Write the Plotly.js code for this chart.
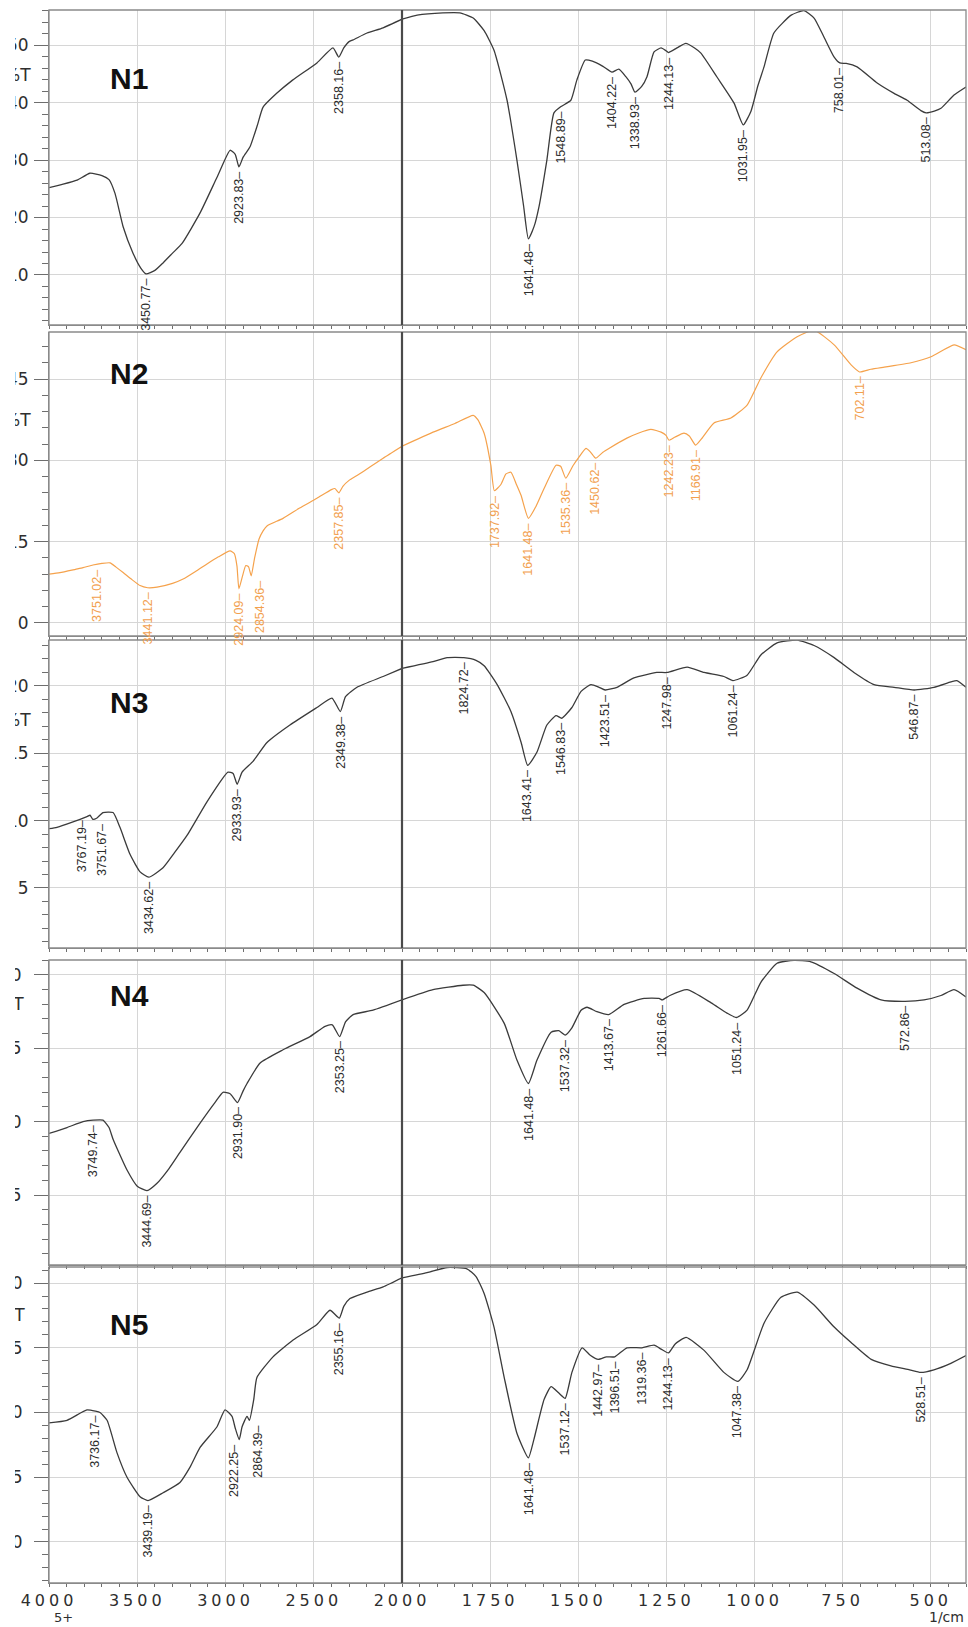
<!DOCTYPE html>
<html><head><meta charset="utf-8">
<script src="https://cdn.plot.ly/plotly-3.0.1.min.js"></script>
<style>
html,body{margin:0;padding:0;background:#fff;overflow:hidden}
#wrap{position:relative;width:968px;height:1627px}
#chart{width:968px;height:1627px}
#crop{position:absolute;left:0;top:0;width:15px;height:1627px;background:#fff}
.x9tick text,.x10tick text{letter-spacing:4px}
</style></head><body>
<div id="wrap"><div id="chart"></div><div id="crop"></div></div>
<script>
// ---------------- DATA ----------------
const SAMPLES = ['N1','N2','N3','N4','N5'];
const XTICKS_HIGH = [4000,3500,3000,2500,2000];
const XTICKS_LOW = [1750,1500,1250,1000,750,500];

const N1_wn = [4000,3920,3841,3768,3700,3660,3626,3580,3524,3480,3450.77,3400,3354,3300,3246,3144,3048,2974,2945,2923.83,2900,2861,2820,2787,2710,2620,2482,2391,2358.16,2330,2300,2277,2198,2107,2000,
 1957,1884,1836,1798,1767,1739,1702,1674,1655,1641.48,1625,1611,1589,1569,1548.89,1521,1504,1480,1460,1430,1404.22,1385,1365,1350,1338.93,1320,1305,1285,1265,1251,1244.13,1220,1195,1170,1152,1106,1058,1031.95,1010,990,973,945,896,860,831,803,774,758.01,740,709,652,604,567,528,513.08,490,471,434,400];
const N1_t = [25.2,25.8,26.5,27.7,27.3,26.6,24.2,18.4,13.8,11.2,10.2,10.8,12.1,13.8,15.5,20.8,27.0,31.7,31.0,28.8,30.5,32.3,36.0,39.2,41.6,43.9,46.9,49.5,47.9,49.5,50.6,50.9,52.1,53.0,54.5,
 55.2,55.6,55.6,54.7,52.5,49.1,40.4,30.0,22.0,16.3,18.5,22.0,30.0,38.2,39.3,40.4,43.9,47.4,47.2,46.3,45.3,45.8,44.5,43.2,41.8,42.8,44.5,48.8,49.5,49.0,48.7,49.5,50.3,49.5,48.6,44.4,39.9,36.1,38.5,43.0,46.2,52.1,55.2,56.0,54.7,51.4,47.9,46.9,46.8,46.2,43.4,41.6,40.4,38.6,38.2,38.5,39.0,41.3,42.7];
const N1_peaks = [3450.77,2923.83,2358.16,1641.48,1548.89,1404.22,1338.93,1244.13,1031.95,758.01,513.08];

const N2_wn = [4000,3938,3850,3807,3751.02,3700,3654,3620,3580,3530,3484,3441.12,3388,3300,3240,3170,3105,3040,2974,2950,2935,2924.09,2905,2885,2870,2854.36,2835,2810,2787,2765,2674,2580,2482,2400,2380,2357.85,2335,2300,2255,2180,2107,2000,
 1912,1850,1798,1785,1767,1748,1737.92,1720,1705,1691,1675,1662,1641.48,1620,1597,1563,1550,1535.36,1515,1498,1478,1465,1450.62,1430,1413,1362,1330,1294,1265,1251,1242.23,1225,1200,1185,1166.91,1150,1115,1067,1021,982,936,879,831,774,726,702.11,670,632,556,499,434,400];
const N2_t = [9.0,9.3,9.9,10.2,10.7,11.0,11.1,10.3,9.3,8.0,6.9,6.5,6.6,7.3,8.1,9.5,10.9,12.2,13.3,12.8,10.5,6.3,8.5,10.6,10.4,8.7,12.0,15.5,17.0,17.9,19.3,21.2,23.0,24.6,24.8,24.0,25.2,26.3,27.2,28.8,30.4,32.6,
 35.2,36.8,38.3,37.5,35.0,29.1,24.4,25.5,27.5,27.8,25.5,23.5,19.3,21.5,24.8,29.1,28.9,26.7,29.0,30.6,32.2,31.5,30.4,31.5,32.2,34.1,35.0,35.7,35.2,34.6,33.7,34.3,35.0,34.5,32.8,34.0,36.9,37.8,40.2,45.2,50.0,52.8,54.0,51.3,47.6,46.3,46.8,47.2,48.0,49.1,51.3,50.4];
const N2_peaks = [3751.02,3441.12,2924.09,2854.36,2357.85,1737.92,1641.48,1535.36,1450.62,1242.23,1166.91,702.11];

const N3_wn = [4000,3955,3864,3785,3767.19,3751.67,3728,3694,3637,3598,3541,3484,3434.62,3354,3290,3218,3105,2986,2957,2933.93,2906,2844,2765,2635,2482,2397,2349.38,2320,2255,2107,2000,
 1912,1872,1824.72,1790,1767,1730,1691,1662,1643.41,1617,1589,1563,1546.83,1518,1492,1464,1441,1423.51,1390,1342,1277,1247.98,1191,1143,1087,1061.24,1021,982,936,879,831,774,718,661,604,546.87,491,443,426,400];
const N3_t = [9.4,9.5,9.9,10.3,10.4,10.1,10.2,10.6,10.6,9.5,7.5,6.2,5.8,6.5,7.6,8.9,11.4,13.6,13.5,12.7,13.6,14.4,15.8,17.1,18.4,19.1,18.1,19.2,19.9,20.7,21.3,
 21.8,22.1,22.1,21.9,21.5,20.1,18.1,15.8,14.1,15.1,17.1,17.8,17.6,18.4,19.6,20.1,19.9,19.7,19.9,20.6,21.0,21.0,21.4,21.0,20.7,20.4,20.8,22.3,23.2,23.4,23.0,22.1,21.0,20.1,19.9,19.7,19.9,20.3,20.4,19.9];
const N3_peaks = [3767.19,3751.67,3434.62,2933.93,2349.38,1824.72,1643.41,1546.83,1423.51,1247.98,1061.24,546.87];

const N4_wn = [4000,3898,3807,3749.74,3694,3660,3637,3558,3500,3444.69,3388,3320,3258,3144,3060,3014,2974,2931.90,2900,2878,2804,2674,2521,2436,2395,2353.25,2320,2277,2164,2000,
 1912,1827,1798,1767,1710,1674,1641.48,1617,1577,1555,1537.32,1518,1492,1475,1447,1413.67,1370,1313,1271,1261.66,1240,1191,1123,1078,1051.24,1021,982,936,888,840,774,709,641,572.86,519,471,434,400];
const N4_t = [9.2,9.6,10.0,10.1,10.1,9.6,8.8,6.7,5.6,5.3,5.8,6.8,7.9,9.9,11.3,12.0,11.9,11.3,12.1,12.6,14.0,14.9,15.8,16.5,16.6,15.8,16.8,17.3,17.6,18.3,
 19.0,19.3,19.3,18.8,16.7,14.2,12.6,14.2,16.1,16.2,15.9,16.4,17.6,17.8,17.5,17.3,18.0,18.4,18.4,18.3,18.6,19.0,18.1,17.4,17.1,17.6,19.5,20.8,21.0,20.9,20.1,19.1,18.3,18.2,18.3,18.6,19.0,18.5];
const N4_peaks = [3749.74,3444.69,2931.90,2353.25,1641.48,1537.32,1413.67,1261.66,1051.24,572.86];

const N5_wn = [4000,3898,3785,3736.17,3711,3671,3615,3558,3484,3439.19,3354,3258,3200,3144,3048,3003,2963,2945,2922.25,2906,2878,2864.39,2840,2822,2731,2617,2482,2408,2355.16,2330,2295,2198,2107,2000,
 1929,1872,1816,1790,1767,1739,1710,1674,1641.48,1626,1597,1577,1555,1537.12,1518,1489,1465,1442.97,1420,1396.51,1362,1319.36,1285,1265,1244.13,1225,1194,1143,1087,1047.38,1021,973,925,879,831,774,726,669,613,560,528.51,491,443,400];
const N5_t = [9.2,9.4,10.2,10.1,10.0,9.4,6.9,5.0,3.5,3.2,3.8,4.6,5.8,7.3,8.9,10.2,9.7,8.8,7.9,8.9,9.7,9.4,11.0,12.7,14.3,15.6,16.8,17.9,17.3,18.2,18.8,19.3,19.7,20.4,
 20.8,21.2,21.1,20.5,19.2,16.6,12.7,8.4,6.5,7.9,11.0,12.0,11.5,11.1,13.1,15.0,14.4,14.1,14.3,14.3,15.0,15.0,15.2,14.9,14.6,15.3,15.8,14.8,13.1,12.4,13.3,16.9,18.9,19.3,18.3,16.6,15.4,14.1,13.6,13.3,13.1,13.3,13.8,14.4];
const N5_peaks = [3736.17,3439.19,2922.25,2864.39,2355.16,1641.48,1537.12,1442.97,1396.51,1319.36,1244.13,1047.38,528.51];

const N1_yticks = [10,20,30,40,50];
const N2_yticks = [0,15,30,45];
const N3_yticks = [5,10,15,20];
const N4_yticks = [5,10,15,20];
const N5_yticks = [0,5,10,15,20];

// ---------------- STYLE / LAYOUT ----------------
const W = 968, H = 1627;
const dL = 49/W, dS = 402/W, dR = 966/W;
const rowStyle = {
  N1:{dom:[1-325/H,1-10/H], range:[1.3,56.1], minor:2, pctY:44.8, labelY:79, standoff:2, color:'#3b3b3b', tcolor:'#2c2c2c', shifts:{}},
  N2:{dom:[1-636/H,1-332/H], range:[-2.4,53.67], minor:3, pctY:37.4, labelY:373, standoff:2, color:'#f5a24c', tcolor:'#f2a04e', shifts:{3751.02:4,2854.36:9}},
  N3:{dom:[1-948/H,1-640/H], range:[0.545,23.41], minor:1, pctY:17.5, labelY:702, standoff:2, color:'#3b3b3b', tcolor:'#2c2c2c', shifts:{3767.19:-8,3751.67:9}},
  N4:{dom:[1-1265/H,1-960/H], range:[0.228,21.02], minor:1, pctY:18.0, labelY:995, standoff:9, color:'#3b3b3b', tcolor:'#2c2c2c', shifts:{}},
  N5:{dom:[1-1583/H,1-1267/H], range:[-3.17,21.24], minor:1, pctY:17.5, labelY:1324, standoff:8, color:'#3b3b3b', tcolor:'#2c2c2c', shifts:{2922.25:-6,2864.39:9}}
};
const series = {
  N1:{wn:N1_wn,t:N1_t,peaks:N1_peaks,yticks:N1_yticks},
  N2:{wn:N2_wn,t:N2_t,peaks:N2_peaks,yticks:N2_yticks},
  N3:{wn:N3_wn,t:N3_t,peaks:N3_peaks,yticks:N3_yticks},
  N4:{wn:N4_wn,t:N4_t,peaks:N4_peaks,yticks:N4_yticks},
  N5:{wn:N5_wn,t:N5_t,peaks:N5_peaks,yticks:N5_yticks}
};

const GRID = '#d6d6d6', BORDER = '#8a8a8a', TICKC = '#6e6e6e';
const traces = [], annotations = [], shapes = [];
const layout = {
  width:W, height:H, margin:{l:0,r:0,t:0,b:0},
  paper_bgcolor:'#fff', plot_bgcolor:'#fff', showlegend:false,
  font:{family:'DejaVu Sans, sans-serif', color:'#333'}
};

SAMPLES.forEach((name, i) => {
  const s = series[name], st = rowStyle[name];
  const xl = i===0 ? 'x' : 'x'+(2*i+1);
  const xr = 'x'+(2*i+2);
  const yy = i===0 ? 'y' : 'y'+(i+1);
  const last = i===SAMPLES.length-1;
  const hiX=[],hiY=[],loX=[],loY=[];
  s.wn.forEach((w,k)=>{ if(w>=2000){hiX.push(w);hiY.push(s.t[k]);} if(w<=2000){loX.push(w);loY.push(s.t[k]);} });
  const line = {color:st.color, width: name==='N2'?1.2:1.3, shape:'spline', smoothing:0.5};
  traces.push({x:hiX,y:hiY,xaxis:xl,yaxis:yy,type:'scatter',mode:'lines',line:line,hoverinfo:'skip'});
  traces.push({x:loX,y:loY,xaxis:xr,yaxis:yy,type:'scatter',mode:'lines',line:line,hoverinfo:'skip'});

  const xCommon = {
    anchor:yy, showgrid:true, gridcolor:GRID, gridwidth:1, zeroline:false,
    showline:true, linecolor:BORDER, linewidth:1, ticks:'outside', ticklen:3, tickcolor:TICKC,
    tickmode:'array', showticklabels:last,
    tickfont:{family:'DejaVu Sans, sans-serif', size:16, color:'#2e2e2e'}
  };
  layout[i===0?'xaxis':'xaxis'+(2*i+1)] = Object.assign({}, xCommon, {
    domain:[dL,dS], range:[4000,2000], tickvals:XTICKS_HIGH, ticktext:XTICKS_HIGH.map(String),
    minor:{tickmode:'linear', tick0:4000, dtick:100, ticks:'outside', ticklen:3, tickcolor:TICKC, showgrid:false}
  });
  layout['xaxis'+(2*i+2)] = Object.assign({}, xCommon, {
    domain:[dS,dR], range:[2000,400], tickvals:XTICKS_LOW, ticktext:XTICKS_LOW.map(String),
    minor:{tickmode:'linear', tick0:2000, dtick:50, ticks:'outside', ticklen:3, tickcolor:TICKC, showgrid:false}
  });
  layout[i===0?'yaxis':'yaxis'+(i+1)] = {
    anchor:xl, domain:st.dom, range:st.range, tickmode:'array', tickvals:s.yticks, ticktext:s.yticks.map(String),
    showgrid:true, gridcolor:GRID, gridwidth:1, zeroline:false,
    showline:true, linecolor:BORDER, linewidth:1, ticks:'outside', ticklen:14, tickcolor:TICKC,
    ticklabelstandoff:st.standoff,
    tickfont:{family:'DejaVu Sans, sans-serif', size:17, color:'#2e2e2e'},
    minor:{tickmode:'linear', tick0:0, dtick:st.minor, ticks:'outside', ticklen:6, tickcolor:TICKC, showgrid:false}
  };

  const yd = yy+' domain';
  shapes.push({type:'rect', xref:'paper', yref:yd, x0:dL, x1:dR, y0:0, y1:1, line:{color:BORDER, width:1.3}, layer:'above'});
  shapes.push({type:'line', xref:'paper', yref:yd, x0:dS, x1:dS, y0:0, y1:1, line:{color:'#4a4a4a', width:2.2}, layer:'above'});

  annotations.push({xref:'paper', yref:'paper', x:108/W, y:1-st.labelY/H, xanchor:'left', yanchor:'middle',
    text:name, showarrow:false, font:{family:'Liberation Sans, Arial, sans-serif', size:30, weight:'bold', color:'#111'}});
  annotations.push({xref:'paper', yref:yy, x:dL, y:st.pctY, xanchor:'right', yanchor:'middle', xshift:-16-(st.standoff-2),
    text:'%T', showarrow:false, font:{family:'DejaVu Sans, sans-serif', size:17, color:'#2e2e2e'}});

  s.peaks.forEach(p => {
    const k = s.wn.indexOf(p);
    annotations.push({
      xref: p>2000 ? xl : xr, yref:yy, x:p, y:s.t[k], text:p.toFixed(2)+'–',
      textangle:-90, showarrow:false, xanchor:'center', yanchor:'top', yshift:-3,
      xshift: st.shifts[p] || 0,
      font:{family:'Liberation Sans, Arial, sans-serif', size:12.5, color:st.tcolor}
    });
  });
});

annotations.push({xref:'paper', yref:'paper', x:63/W, y:1-1626/H, xanchor:'center', yanchor:'bottom', text:'5+', showarrow:false,
  borderpad:0, font:{family:'DejaVu Sans, sans-serif', size:13, color:'#2e2e2e'}});
annotations.push({xref:'paper', yref:'paper', x:965/W, y:1-1626/H, xanchor:'right', yanchor:'bottom', text:'1/cm', showarrow:false,
  borderpad:0, font:{family:'DejaVu Sans, sans-serif', size:14, color:'#2e2e2e'}});

layout.annotations = annotations;
layout.shapes = shapes;
Plotly.newPlot('chart', traces, layout, {staticPlot:true, displayModeBar:false});
</script></body></html>
